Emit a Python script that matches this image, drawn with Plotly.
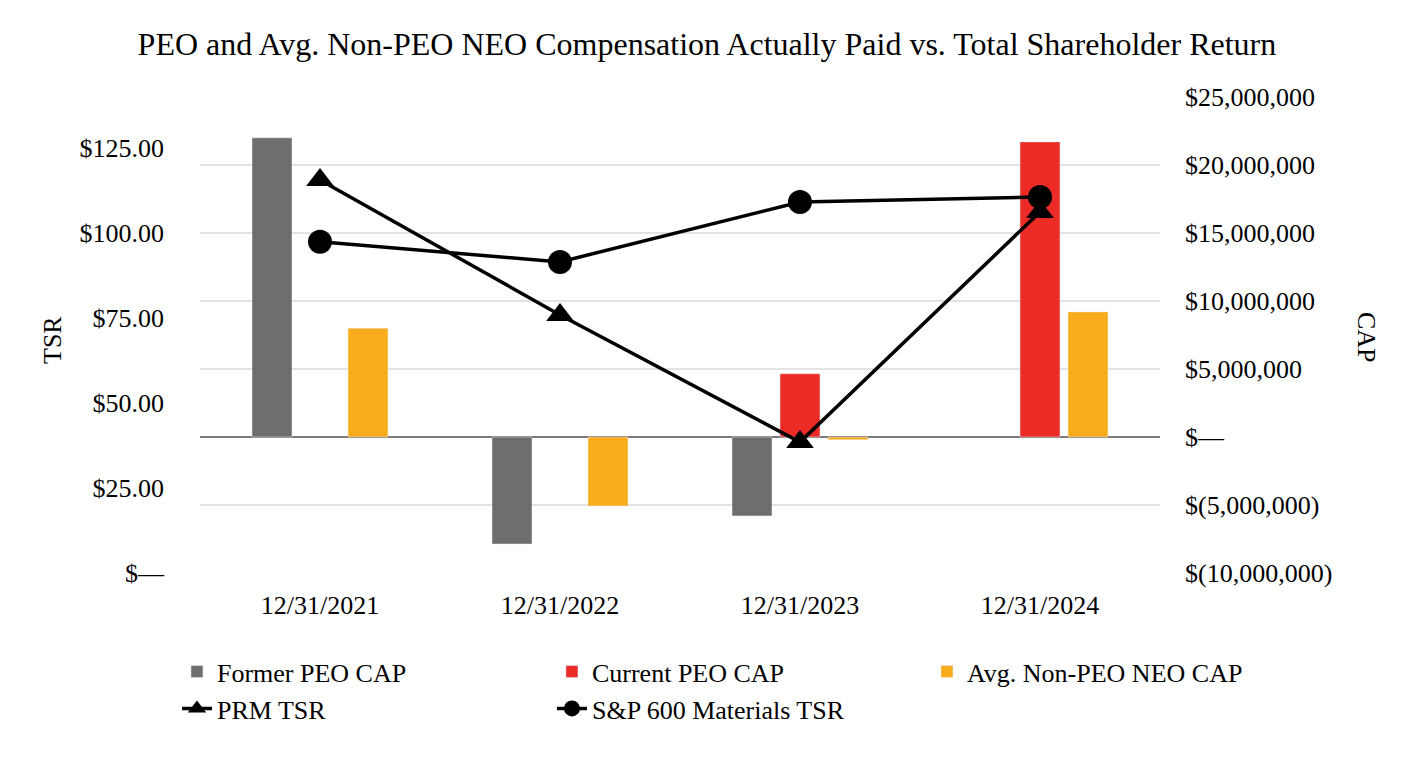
import plotly.graph_objects as go

categories = ["12/31/2021", "12/31/2022", "12/31/2023", "12/31/2024"]
former_peo_cap = [22000000, -7870000, -5800000, None]
current_peo_cap = [None, None, 4650000, 21700000]
avg_non_peo_cap = [8000000, -5070000, -200000, 9200000]
prm_tsr = [115.6, 75.9, 38.5, 106.2]
sp600_tsr = [97.4, 91.5, 109.1, 110.6]

tsr_tickvals = [0, 25, 50, 75, 100, 125]
tsr_ticktext = ["$\u2014", "$25.00", "$50.00", "$75.00", "$100.00", "$125.00"]
cap_tickvals = [-10000000, -5000000, 0, 5000000, 10000000, 15000000, 20000000, 25000000]
cap_ticktext = ["$(10,000,000)", "$(5,000,000)", "$\u2014", "$5,000,000", "$10,000,000",
                "$15,000,000", "$20,000,000", "$25,000,000"]

FONT = "Liberation Serif, Times New Roman, serif"

fig = go.Figure()
fig.add_trace(go.Bar(x=categories, y=former_peo_cap, name="Former PEO CAP",
                     marker_color="#6e6e6e", yaxis="y"))
fig.add_trace(go.Bar(x=categories, y=current_peo_cap, name="Current PEO CAP",
                     marker_color="#ec2a26", yaxis="y"))
fig.add_trace(go.Bar(x=categories, y=avg_non_peo_cap, name="Avg. Non-PEO NEO CAP",
                     marker_color="#f8ab1b", yaxis="y"))
fig.add_trace(go.Scatter(x=categories, y=prm_tsr, name="PRM TSR", mode="lines+markers",
                         line=dict(color="black", width=3.5),
                         marker=dict(symbol="triangle-up", size=24, color="black"),
                         yaxis="y2"))
fig.add_trace(go.Scatter(x=categories, y=sp600_tsr, name="S&P 600 Materials TSR",
                         mode="lines+markers",
                         line=dict(color="black", width=3.5),
                         marker=dict(symbol="circle", size=24, color="black"),
                         yaxis="y2"))

# page has an 8px body margin; figure coords are offset accordingly
fig.update_layout(
    width=1412, height=752,
    paper_bgcolor="white", plot_bgcolor="white",
    font=dict(family=FONT, size=26, color="black"),
    margin=dict(l=192, r=260, t=89, b=187, autoexpand=False),
    title=dict(text="PEO and Avg. Non-PEO NEO Compensation Actually Paid vs. Total Shareholder Return",
               x=0.495, xanchor="center", y=1 - 36 / 752, yanchor="middle",
               font=dict(family=FONT, size=32)),
    barmode="group", bargap=0.4, bargroupgap=0.1667,
    xaxis=dict(showgrid=False, showline=False, ticks="", ticklabelstandoff=14,
               tickfont=dict(family=FONT, size=26)),
    yaxis=dict(side="right", range=[-10000000, 25000000], tickvals=cap_tickvals,
               ticktext=cap_ticktext, showgrid=True, gridcolor="#e3e3e3", gridwidth=2,
               zeroline=True, zerolinecolor="#7a7a7a", zerolinewidth=2,
               showline=False, ticks="", ticklabelstandoff=24,
               tickfont=dict(family=FONT, size=26)),
    yaxis2=dict(side="left", overlaying="y", range=[0, 140], tickvals=tsr_tickvals,
                ticktext=tsr_ticktext, showgrid=False, zeroline=False, showline=False,
                ticks="", ticklabelstandoff=35, tickfont=dict(family=FONT, size=26)),
    legend=dict(orientation="h", x=-0.024, xanchor="left", y=-0.158, yanchor="top",
                entrywidth=330, entrywidthmode="pixels", font=dict(family=FONT, size=26),
                traceorder="normal", bgcolor="rgba(0,0,0,0)", tracegroupgap=0),
    annotations=[
        dict(text="TSR", xref="paper", yref="paper", x=(52 - 200) / 960, y=(573 - 340) / 476,
             showarrow=False, textangle=-90, font=dict(family=FONT, size=26),
             xanchor="center", yanchor="middle"),
        dict(text="CAP", xref="paper", yref="paper", x=(1367 - 200) / 960, y=(573 - 337) / 476,
             showarrow=False, textangle=90, font=dict(family=FONT, size=26),
             xanchor="center", yanchor="middle"),
    ],
)

fig.write_html("out.html")
